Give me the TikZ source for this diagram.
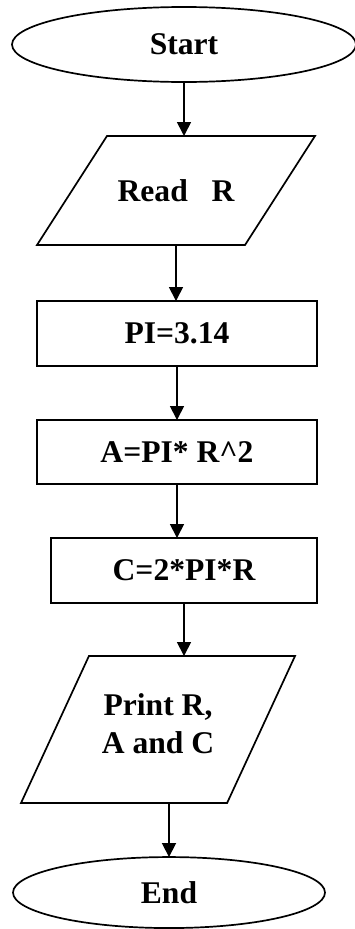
\documentclass[tikz,border=0pt]{standalone}
\usepackage{fontspec}
\setmainfont{Liberation Serif}
\usetikzlibrary{shapes.geometric,arrows.meta,positioning}
\tikzset{
        term/.style = {draw, ellipse, inner sep=0pt, outer sep=0pt,
            minimum width=344pt, minimum height=75pt},
        block/.style = {draw, rectangle, inner sep=0pt, outer sep=0pt,
            minimum width=280pt, minimum height=65pt},
        io/.style = {draw, trapezium, trapezium stretches body,
            inner xsep=0pt, inner ysep=44pt, outer sep=0pt, align=center},
        arrow/.style = {draw, -{Triangle[length=14pt,width=14pt]}},
    }

\begin{document}
\begin{tikzpicture}[x=1pt, y=1pt, line width=1.7pt,
        font=\fontsize{31.6}{38}\selectfont\bfseries]
    \useasboundingbox (0,0) rectangle (355,-929);

    \node[term] (start) at (184,-44.5) {Start};
    \node[io, below=54pt of start, xshift=-8pt, text height=21pt, text depth=0pt,
        trapezium left angle=57.3, trapezium right angle=122.7,
        minimum width=278pt] (read) {Read~~~R};
    \node[block, below=56pt of read, xshift=1pt] (pi) {PI=3.14};
    \node[block, below=54pt of pi, minimum height=64pt] (area) {A=PI* R\^{}2};
    \node[block, below=54pt of area, xshift=7pt, minimum width=266pt] (circ) {C=2*PI*R};
    \node[io, below=53pt of circ, xshift=-26pt, text height=53pt, text depth=6pt,
        trapezium left angle=65.2, trapezium right angle=114.8,
        minimum width=274pt] (print) {Print R,\\A and C};
    \node[term, below=54pt of print, xshift=11pt,
        minimum width=312pt, minimum height=71pt] (stop) {End};

    \draw[arrow] (start) -- (start |- read.north);
    \draw[arrow] (read) -- (read |- pi.north);
    \draw[arrow] (pi) -- (pi |- area.north);
    \draw[arrow] (area) -- (area |- circ.north);
    \draw[arrow] (circ) -- (circ |- print.north);
    \draw[arrow] (stop.north |- print.south) -- (stop);
\end{tikzpicture}
\end{document}
